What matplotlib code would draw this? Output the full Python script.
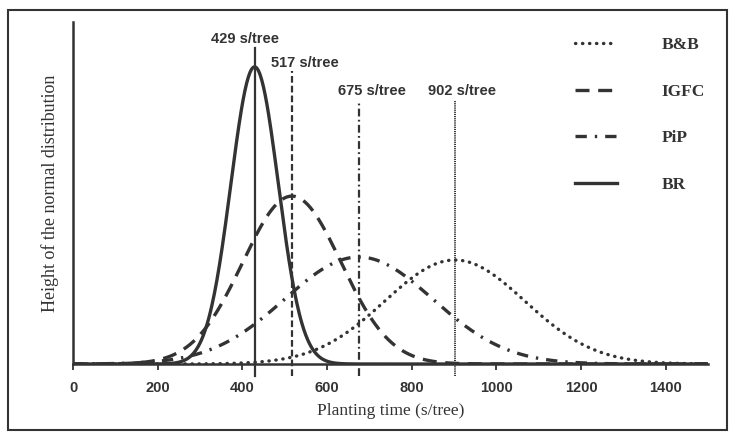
import numpy as np
import matplotlib
matplotlib.use("Agg")
import matplotlib.pyplot as plt
from matplotlib.patches import Rectangle

# data: normal curves (mean, sd, relative peak height)
methods = ["B&B", "IGFC", "PiP", "BR"]
means = [902, 517, 675, 429]
sds = [165, 116, 175, 56]
peaks = [0.35, 0.565, 0.36, 1.0]
xticks = [0, 200, 400, 600, 800, 1000, 1200, 1400]

# styles
ink = "#333333"
curve_styles = {
    "B&B": dict(lw=2.4, dashes=(0.1, 2.0), dash_capstyle="round"),
    "IGFC": dict(lw=2.4, dashes=(4.2, 2.6)),
    "PiP": dict(lw=2.4, dashes=(3.4, 2.4, 0.7, 2.4)),
    "BR": dict(lw=2.4, linestyle="-"),
}
vline_styles = {
    "B&B": dict(lw=1.4, dashes=(0.6, 0.5)),
    "IGFC": dict(lw=1.6, dashes=(3.0, 1.4)),
    "PiP": dict(lw=1.6, dashes=(3.5, 1.5, 0.8, 1.5)),
    "BR": dict(lw=1.6, linestyle="-"),
}
# vertical-line tops and label spots (data y, label x)
vline_top = {"B&B": 0.886, "IGFC": 0.987, "PiP": 0.886, "BR": 1.064}
label_pos = {"B&B": (920, 0.919), "IGFC": (548, 1.013), "PiP": (707, 0.919), "BR": (407, 1.094)}

plt.rcParams['font.family'] = ['Liberation Sans', 'DejaVu Sans']

fig = plt.figure(figsize=(7.31, 4.32), dpi=100)
ax = fig.add_axes([73 / 731, 1 - 364 / 432, 635 / 731, 342 / 432])

x = np.linspace(0, 1500, 751)
lines = {}
for m, mu, sd, pk in zip(methods, means, sds, peaks):
    y = pk * np.exp(-0.5 * ((x - mu) / sd) ** 2)
    ln, = ax.plot(x, y, color=ink, label=m, zorder=3 if m == "BR" else 2,
                  **curve_styles[m])
    lines[m] = ln

ymax = 1.151
below = ymax * 12 / 342
for m, mu in zip(methods, means):
    ax.plot([mu, mu], [-below, vline_top[m]], color=ink, clip_on=False,
            zorder=2, **vline_styles[m])
    lx, ly = label_pos[m]
    ax.text(lx, ly, f"{mu} s/tree", ha="center", va="center",
            fontsize=10.5, fontweight="bold", color=ink)

ax.set_xlim(0, 1500)
ax.set_ylim(0, ymax)
ax.set_xticks(xticks)
ax.set_xticklabels([str(t) for t in xticks], fontsize=10.5, fontweight="bold",
                   color=ink)
ax.set_yticks([])
ax.tick_params(axis="x", direction="out", length=4, width=1.3, color=ink, pad=8)
for s in ["top", "right"]:
    ax.spines[s].set_visible(False)
for s in ["left", "bottom"]:
    ax.spines[s].set_linewidth(1.8)
    ax.spines[s].set_color(ink)

ax.set_xlabel("Planting time (s/tree)", family="Liberation Serif", fontsize=12.5,
              color=ink, labelpad=6)
ax.set_ylabel("Height of the normal distribution", family="Liberation Serif",
              fontsize=13, color=ink, labelpad=10)

leg = ax.legend(handles=[lines[m] for m in methods], loc="upper left",
                bbox_to_anchor=(575 / 731, 1 - 37 / 432), bbox_transform=fig.transFigure,
                frameon=False, borderpad=0, borderaxespad=0, handlelength=2.4,
                handletextpad=2.6, labelspacing=1.75,
                prop=dict(family="Liberation Serif", weight="bold", size=12.5))
for t in leg.get_texts():
    t.set_color(ink)

fig.patches.append(Rectangle((8 / 731, 2 / 432), 719 / 731, 420 / 432,
                             transform=fig.transFigure, fill=False,
                             edgecolor=ink, lw=1.5))

fig.savefig("out.png", dpi=100)
